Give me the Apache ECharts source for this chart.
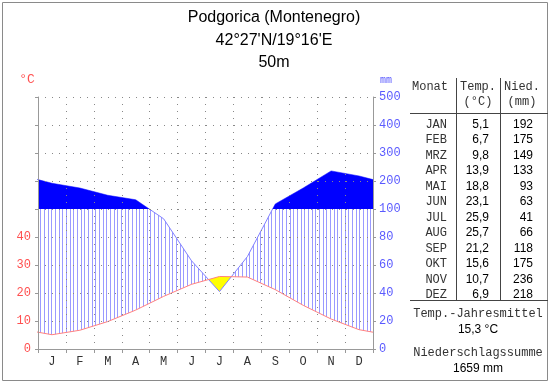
<!DOCTYPE html>
<html><head><meta charset="utf-8">
<script src="https://cdn.jsdelivr.net/npm/echarts@6/dist/echarts.min.js"></script>
<style>html,body{margin:0;padding:0;background:#fff}#c{width:550px;height:384px}</style>
</head><body><div id="c"></div>
<script>
const months = ['J','F','M','A','M','J','J','A','S','O','N','D'];
const monthNames = ['JAN','FEB','MRZ','APR','MAI','JUN','JUL','AUG','SEP','OKT','NOV','DEZ'];
const temps = [5.1,6.7,9.8,13.9,18.8,23.1,25.9,25.7,21.2,15.6,10.7,6.9];
const precip = [192,175,149,133,93,63,41,66,118,175,236,218];
const leftTickLabels = ['0','10','20','30','40'];
const rightTickLabels = ['0','20','40','60','80','100','200','300','400','500'];
const titleLines = ['Podgorica (Montenegro)', "42°27'N/19°16'E", '50m'];

const MONO = '"Liberation Mono","DejaVu Sans Mono",monospace';
const SANS = '"Liberation Sans",Arial,sans-serif';
const C = 50; // 100 mm on temperature scale

function scaleP(p){ return p <= 100 ? p/2 : C + (p-100)/10; }

// periodic extension (Dec before Jan, Jan after Dec)
const xs = [-0.5].concat(temps.map((_,i)=>i+0.5)).concat([12.5]);
const tExt = [temps[11]].concat(temps).concat([temps[0]]);
const pExt = [precip[11]].concat(precip).concat([precip[0]]).map(scaleP);

function evalAt(x){
  let i = 0;
  while (i < xs.length-2 && x > xs[i+1]) i++;
  const f = (x - xs[i])/(xs[i+1]-xs[i]);
  return { t: tExt[i] + (tExt[i+1]-tExt[i])*f, p: pExt[i] + (pExt[i+1]-pExt[i])*f };
}
// breakpoints for region polygons
const bx = [];
for (let i=0;i<xs.length;i++){
  bx.push(xs[i]);
  if (i < xs.length-1){
    const g0 = pExt[i]-tExt[i], g1 = pExt[i+1]-tExt[i+1];
    if (g0*g1 < 0) bx.push(xs[i] + (xs[i+1]-xs[i])*g0/(g0-g1));
    const h0 = pExt[i]-C, h1 = pExt[i+1]-C;
    if (h0*h1 < 0) bx.push(xs[i] + (xs[i+1]-xs[i])*h0/(h0-h1));
  }
}
bx.sort((a,b)=>a-b);
const vals = bx.map(evalAt);

function poly(api, upperFn, lowerFn, style){
  const pts = [];
  for (let k=0;k<bx.length;k++) pts.push(api.coord([bx[k], upperFn(vals[k])]));
  for (let k=bx.length-1;k>=0;k--) pts.push(api.coord([bx[k], lowerFn(vals[k])]));
  return { type:'polygon', shape:{ points: pts }, style: style };
}

// hatch pattern
const pc = document.createElement('canvas');
pc.width = 11; pc.height = 4;
const pctx = pc.getContext('2d');
pctx.fillStyle = '#9a9aff';
[0,4,7].forEach(x => pctx.fillRect(x,0,1,4));
const hatch = { image: pc, repeat: 'repeat' };

const sumT = temps.reduce((a,b)=>a+b,0);
const sumP = precip.reduce((a,b)=>a+b,0);
const fmt1 = v => v.toFixed(1).replace('.', ',');

const gray = '#999';
const gridCol = '#888';
const grid = { left: 38, right: 177, top: 97, bottom: 35 };

const graphics = [];
// outer border
graphics.push({ type:'rect', shape:{x:2.5,y:2.5,width:545,height:378}, style:{fill:'none', stroke:'#8a8a8a', lineWidth:1}, z:0 });
titleLines.forEach((s,i)=>{
  graphics.push({ type:'text', x:274, y:18 + i*22.5, style:{ text:s, font:'16px '+SANS, fill:'#000', align:'center', verticalAlign:'middle' } });
});
graphics.push({ type:'text', x:27, y:80, style:{ text:'°C', font:'13px '+MONO, fill:'#ff5050', align:'center', verticalAlign:'middle' } });
graphics.push({ type:'text', x:386, y:80, style:{ text:'mm', font:'10px '+MONO, fill:'#5a5aff', align:'center', verticalAlign:'middle' } });
// table
const tcol = '#333';
const hdrY1 = 87, hdrY2 = 102;
graphics.push({ type:'text', x:430, y:hdrY1, style:{ text:'Monat', font:'12px '+MONO, fill:tcol, align:'center', verticalAlign:'middle' } });
graphics.push({ type:'text', x:478, y:hdrY1, style:{ text:'Temp.', font:'12px '+MONO, fill:tcol, align:'center', verticalAlign:'middle' } });
graphics.push({ type:'text', x:478, y:hdrY2, style:{ text:'(°C)', font:'12px '+MONO, fill:tcol, align:'center', verticalAlign:'middle' } });
graphics.push({ type:'text', x:522, y:hdrY1, style:{ text:'Nied.', font:'12px '+MONO, fill:tcol, align:'center', verticalAlign:'middle' } });
graphics.push({ type:'text', x:522, y:hdrY2, style:{ text:'(mm)', font:'12px '+MONO, fill:tcol, align:'center', verticalAlign:'middle' } });
graphics.push({ type:'line', shape:{x1:410,y1:113.5,x2:548,y2:113.5}, style:{stroke:'#444', lineWidth:1} });
graphics.push({ type:'line', shape:{x1:410,y1:300.5,x2:548,y2:300.5}, style:{stroke:'#444', lineWidth:1} });
graphics.push({ type:'line', shape:{x1:456.5,y1:78,x2:456.5,y2:300}, style:{stroke:'#444', lineWidth:1} });
graphics.push({ type:'line', shape:{x1:500.5,y1:78,x2:500.5,y2:300}, style:{stroke:'#444', lineWidth:1} });
monthNames.forEach((m,i)=>{
  const y = 124.5 + i*15.5;
  graphics.push({ type:'text', x:447, y:y, style:{ text:m, font:'12px '+MONO, fill:tcol, align:'right', verticalAlign:'middle' } });
  graphics.push({ type:'text', x:489, y:y, style:{ text:fmt1(temps[i]), font:'12px '+SANS, fill:'#000', align:'right', verticalAlign:'middle' } });
  graphics.push({ type:'text', x:533, y:y, style:{ text:String(precip[i]), font:'12px '+SANS, fill:'#000', align:'right', verticalAlign:'middle' } });
});
graphics.push({ type:'text', x:478, y:314, style:{ text:'Temp.-Jahresmittel', font:'12px '+MONO, fill:tcol, align:'center', verticalAlign:'middle' } });
graphics.push({ type:'text', x:478, y:330, style:{ text:fmt1(sumT/12)+' °C', font:'12px '+SANS, fill:'#000', align:'center', verticalAlign:'middle' } });
graphics.push({ type:'text', x:478, y:353, style:{ text:'Niederschlagssumme', font:'12px '+MONO, fill:tcol, align:'center', verticalAlign:'middle' } });
graphics.push({ type:'text', x:478, y:369, style:{ text:sumP+' mm', font:'12px '+SANS, fill:'#000', align:'center', verticalAlign:'middle' } });

const chart = echarts.init(document.getElementById('c'), null, { renderer:'canvas' });
chart.setOption({
  animation: false,
  backgroundColor: '#fff',
  grid: grid,
  xAxis: [
    { type:'value', min:0, max:12, interval:1, z:5,
      axisLine:{ show:true, lineStyle:{ color:gray } },
      axisTick:{ show:true, length:4, lineStyle:{ color:gray } },
      axisLabel:{ show:false },
      splitLine:{ show:true, lineStyle:{ color:gridCol, type:[1,6], width:1 } } },
    { type:'category', data: months, boundaryGap:true, position:'bottom',
      axisLine:{ show:false }, axisTick:{ show:false }, splitLine:{ show:false },
      axisLabel:{ margin:7, color:'#333', fontFamily:MONO, fontSize:12 } }
  ],
  yAxis: [
    { type:'value', min:0, max:90, interval:10, position:'left', z:5,
      axisLine:{ show:true, lineStyle:{ color:gray } },
      axisTick:{ show:true, length:3, lineStyle:{ color:gray } },
      axisLabel:{ margin:7, color:'#ff5050', fontFamily:MONO, fontSize:12,
        formatter: v => { const k = Math.round(v/10); return k < leftTickLabels.length ? leftTickLabels[k] : ''; } },
      splitLine:{ show:true, lineStyle:{ color:gridCol, type:[1,6], width:1 } } },
    { type:'value', min:0, max:90, interval:10, position:'right', z:5,
      axisLine:{ show:true, lineStyle:{ color:gray } },
      axisTick:{ show:true, length:3, lineStyle:{ color:gray } },
      axisLabel:{ margin:6, color:'#5a5aff', fontFamily:MONO, fontSize:12,
        formatter: v => rightTickLabels[Math.round(v/10)] || '' },
      splitLine:{ show:false } }
  ],
  series: [
    { type:'custom', xAxisIndex:0, yAxisIndex:0, clip:true, silent:true, z:1, data:[0],
      renderItem: (params, api) => ({ type:'group', children:[
        poly(api, v => Math.max(v.t, Math.min(v.p, C)), v => v.t, { fill: hatch }),
        poly(api, v => v.t, v => Math.min(v.p, v.t), { fill: '#ffff00' })
      ]}) },
    { type:'line', xAxisIndex:0, yAxisIndex:0, data: xs.map((x,i)=>[x,pExt[i]]), showSymbol:false, clip:true, z:2,
      lineStyle:{ color:'#8080ff', width:1 }, silent:true },
    { type:'line', xAxisIndex:0, yAxisIndex:0, data: xs.map((x,i)=>[x,tExt[i]]), showSymbol:false, clip:true, z:2,
      lineStyle:{ color:'#ff8080', width:1 }, silent:true },
    { type:'custom', xAxisIndex:0, yAxisIndex:0, clip:true, silent:true, z:3, data:[0],
      renderItem: (params, api) => ({ type:'group', children:[
        poly(api, v => Math.max(C, v.p), v => C, { fill: '#0000ff' })
      ]}) }
  ],
  graphic: { elements: graphics }
});
</script>
</body></html>
